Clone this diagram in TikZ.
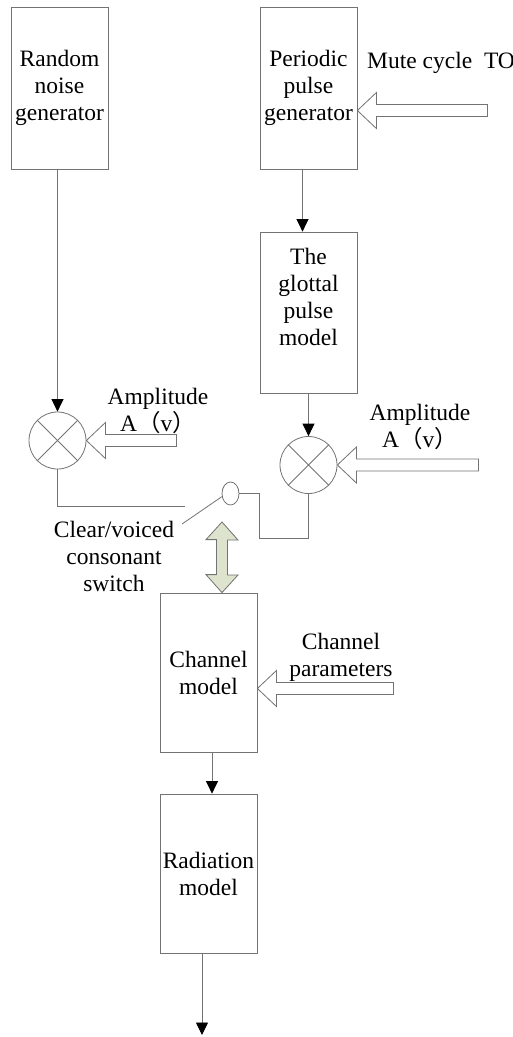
\documentclass[tikz,border=0pt]{standalone}
\usepackage{fontspec}
\setmainfont{Liberation Serif}
\newfontfamily\cjk{Noto Sans CJK SC}
\usetikzlibrary{arrows.meta,calc,shapes.geometric}
\definecolor{linegray}{RGB}{115,115,115}
\definecolor{sage}{RGB}{221,227,205}

% hollow input arrow: tip point, overall length
\newcommand{\inarrow}[2]{%
  \draw[hollow] (#1) -- ++(19,-18) -- ++(0,12) -- ++({#2-19},0) -- ++(0,12)
    -- ++({19-#2},0) -- ++(0,12) -- cycle;}

\begin{document}
\begin{tikzpicture}[x=1pt, y=-1pt,
    font=\fontsize{23.5}{27}\selectfont,
    block/.style={draw=linegray, line width=0.8pt, minimum width=97, minimum height=162, inner sep=0, align=center},
    mult/.style={draw=linegray, line width=0.8pt, circle, minimum size=57, inner sep=0},
    wire/.style={draw=linegray, line width=0.8pt},
    flow/.style={wire, -{Triangle[length=12.5pt, width=12pt, color=black]}},
    hollow/.style={draw=linegray, line width=0.8pt, fill=white, line join=miter},
    txt/.style={inner sep=0, align=center}]
  \useasboundingbox (0,0) rectangle (513,1037);

  % sources
  \node[block] (noise) at (59.5,88) {Random\\noise\\generator};
  \node[block] (pulse) at (308.5,88) {Periodic\\pulse\\generator};
  \node[block, minimum height=161,
    label={[txt, yshift=16pt]center:The\\glottal\\pulse\\model}] (glottal) at (308.5,312.5) {};

  % gain stages
  \node[mult] (mulnoise) at (57.5,440.5) {};
  \node[mult] (mulpulse) at (308.5,465) {};
  \foreach \m in {mulnoise,mulpulse} {
    \draw[wire] (\m.north east) -- (\m.south west);
    \draw[wire] (\m.north west) -- (\m.south east);
  }

  % switch
  \node[draw=linegray, line width=0.8pt, ellipse, minimum width=17, minimum height=23, inner sep=0] (switch) at (230.5,493.5) {};
  \coordinate (contact) at (185,506);
  \coordinate (lever) at (182,524);
  \coordinate (toggletop) at (222,522);

  % vocal tract
  \node[block, minimum height=159] (channel) at (208.5,672.5) {Channel\\model};
  \node[block, minimum height=159] (radiation) at (208.5,873.5) {Radiation\\model};
  \coordinate (out) at (202,1035);

  % labels
  \node[txt, anchor=west] (mute) at (367,63) {Mute cycle\ \ TO};
  \node[txt] (ampnoise) at (158,411) {Amplitude\\A{\cjk （}v{\cjk ）}};
  \node[txt] (amppulse) at (420,427) {Amplitude\\A{\cjk （}v{\cjk ）}};
  \node[txt] (switchlabel) at (114,556.5) {Clear/voiced\\consonant\\switch};
  \node[txt] (chanpar) at (341,657.5) {Channel\\parameters};

  % signal path
  \draw[flow] (noise.south -| mulnoise) -- (mulnoise.north);
  \draw[flow] ($(pulse.south)+(-6,0)$) -- ($(glottal.north)+(-6,0)$);
  \draw[flow] (glottal.south) -- (mulpulse.north);
  \draw[wire] (mulnoise.south) |- (contact);
  \draw[wire] (switch.east) -| ($(switch.east)+(20,44.5)$) -| (mulpulse.south);
  \draw[wire] (switch.200) -- (lever);
  \draw[flow] ($(channel.south)+(3.5,0)$) -- ($(radiation.north)+(3.5,0)$);
  \draw[flow] (radiation.south -| out) -- (out);

  % control inputs
  \inarrow{$(pulse.east)+(0,22.5)$}{130}
  \inarrow{mulnoise.east}{90}
  \inarrow{mulpulse.east}{141}
  \inarrow{$(channel.east)+(0,16)$}{136}
  \draw[hollow, fill=sage] (toggletop) -- ++(16,18) -- ++(-10.5,0) -- ++(0,35) -- ++(10.5,0)
    -- (channel.north -| toggletop) -- ++(-16,-18) -- ++(10.5,0) -- ++(0,-35) -- ++(-10.5,0) -- cycle;
\end{tikzpicture}
\end{document}
